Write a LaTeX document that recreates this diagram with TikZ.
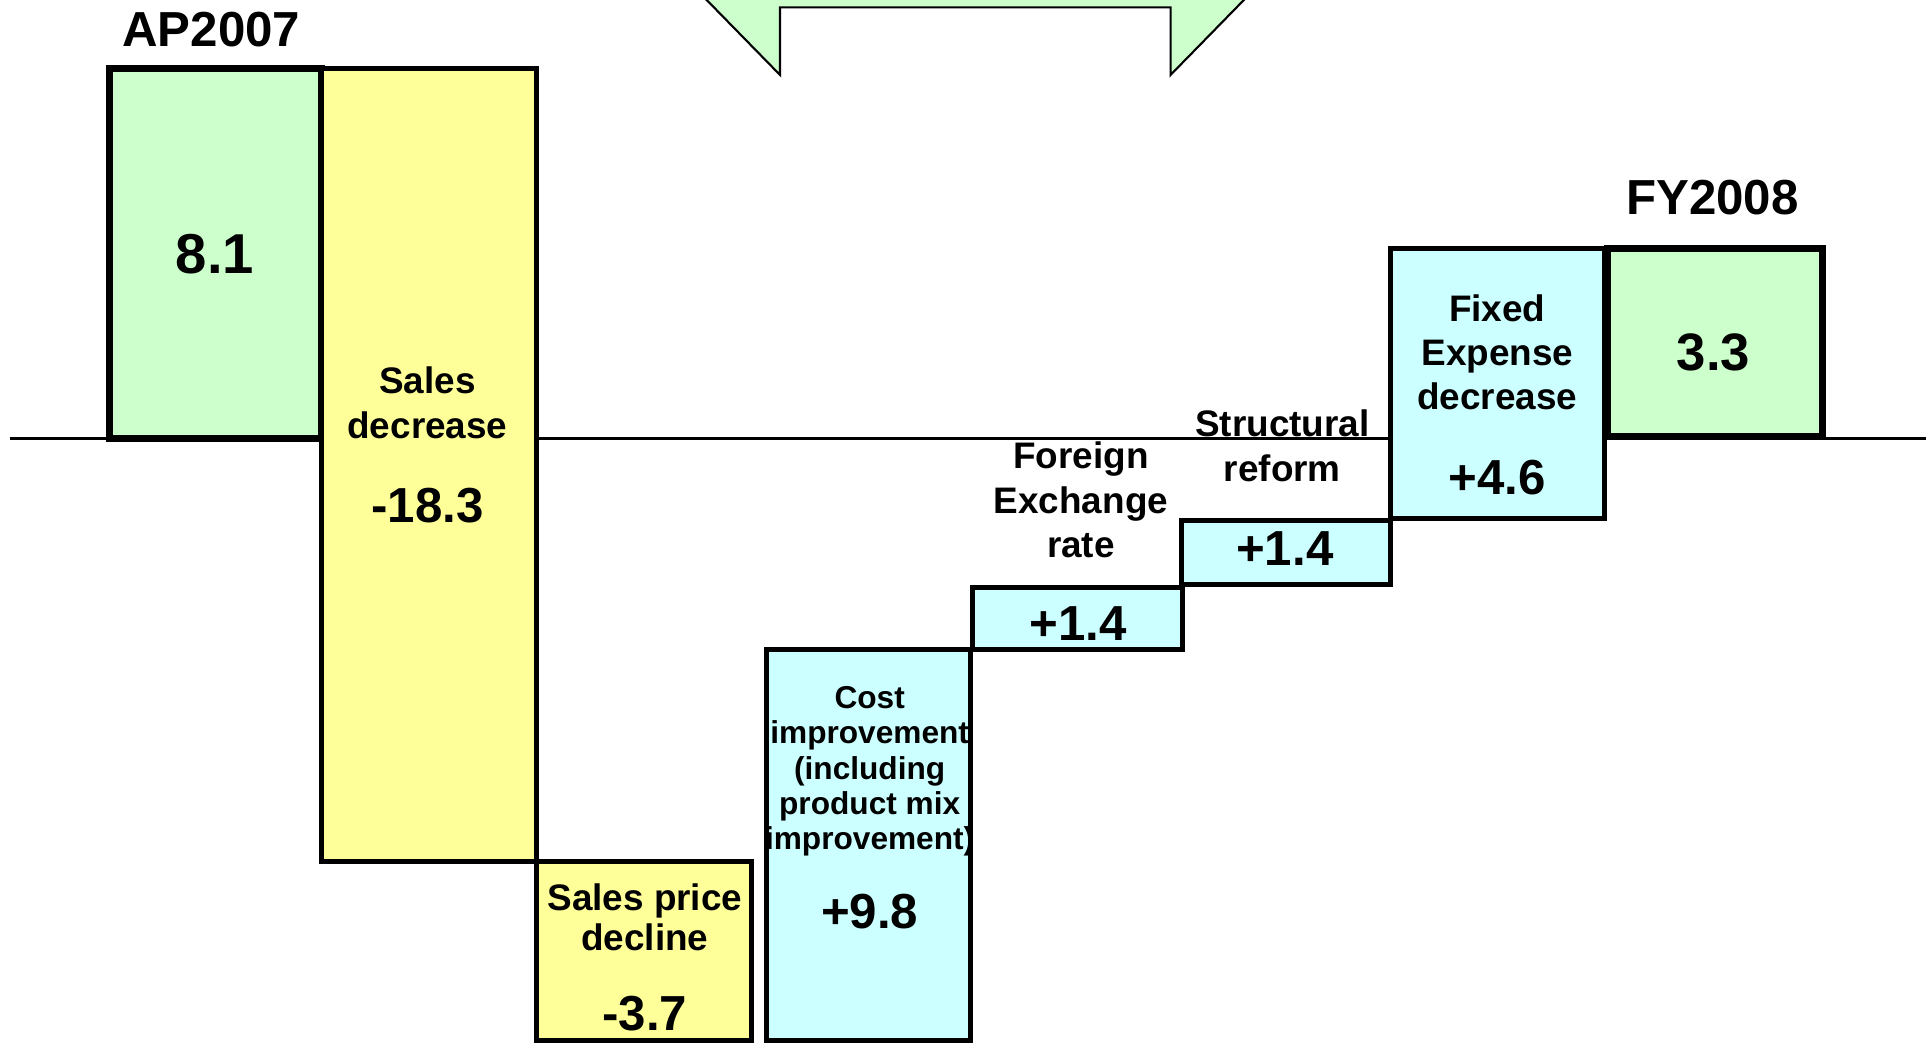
\documentclass[tikz,border=0pt]{standalone}
\usepackage{fontspec}
\setmainfont{Liberation Sans}
\definecolor{totgreen}{HTML}{CCFFCC}
\definecolor{minyellow}{HTML}{FFFF99}
\definecolor{pluscyan}{HTML}{CCFFFF}
\tikzset{
	bar/.style={draw=black,line width=1.4pt},
	totbar/.style={draw=black,line width=2pt,fill=totgreen},
	lbl/.style={font=\bfseries\fontsize{10.5}{12.6}\selectfont,align=center,inner sep=0pt},
	small/.style={font=\bfseries\fontsize{9}{10}\selectfont,align=center,inner sep=0pt},
	val/.style={font=\bfseries\fontsize{14}{16}\selectfont,inner sep=0pt},
}

\begin{document}
\begin{tikzpicture}[x=0.01228cm,y=-0.01228cm]
	\useasboundingbox (0,0) rectangle (1568,850);
	% arrow at the top, only its lower part shows
	\begin{scope}
		\clip (0,0) rectangle (1568,850);
		\filldraw[fill=totgreen,draw=black,line width=0.6pt]
			(635,61) -- (635,6) -- (953,6) -- (953,61) -- (1042,-30) -- (546,-30) -- cycle;
	\end{scope}
	% zero line
	\coordinate (zl) at (8,357);
	\coordinate (zr) at (1568,357);
	\draw[line width=0.9pt] (zl) -- (zr);
	% bars
	\draw[totbar] (89,56) rectangle (262,357);
	\draw[bar,fill=minyellow] (262,56) rectangle (437,701);
	\draw[bar,fill=minyellow] (437,701) rectangle (612,847);
	\draw[bar,fill=pluscyan] (624,529) rectangle (790,847);
	\draw[bar,fill=pluscyan] (792,478) rectangle (963,529);
	\draw[bar,fill=pluscyan] (962,424) rectangle (1132,476);
	\draw[bar,fill=pluscyan] (1132,202) rectangle (1306,422);
	\draw[totbar] (1309,202) rectangle (1484,355);
	% texts
	\node[val] (ap) at (172,24) {AP2007};
	\node[val,font=\bfseries\fontsize{16}{18}\selectfont] (apval) at (175,207) {8.1};
	\node[lbl] (sales) at (348,328) {Sales\\decrease};
	\node[val] (salesval) at (348,412) {-18.3};
	\node[lbl,font=\bfseries\fontsize{10.5}{11.3}\selectfont] (price) at (525,747) {Sales price\\decline};
	\node[val] (priceval) at (525,825) {-3.7};
	\node[small] (cost) at (708,628) {Cost\\improvement\\(including\\product mix\\improvement)};
	\node[val] (costval) at (708,742) {+9.8};
	\node[lbl] (forex) at (880,407) {Foreign\\Exchange\\rate};
	\node[val] (forexval) at (878,508) {+1.4};
	\node[lbl] (reform) at (1044,363) {Structural\\reform};
	\node[val] (reformval) at (1046,447) {+1.4};
	\node[lbl] (fixed) at (1219,287) {Fixed\\Expense\\decrease};
	\node[val] (fixedval) at (1219,389) {+4.6};
	\node[val] (fy) at (1394,161) {FY2008};
	\node[val,font=\bfseries\fontsize{15}{17}\selectfont] (fyval) at (1395,287) {3.3};
\end{tikzpicture}
\end{document}
